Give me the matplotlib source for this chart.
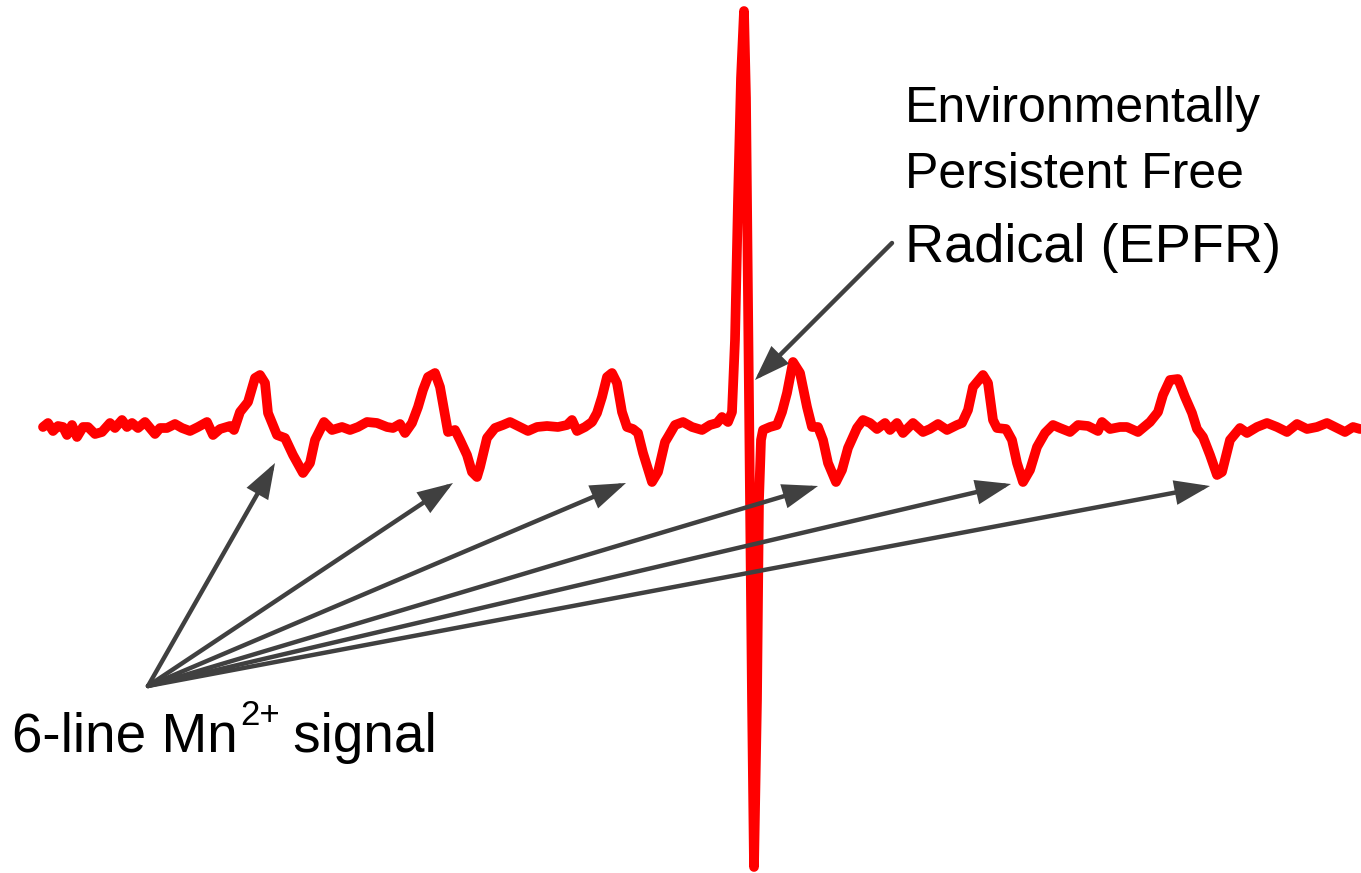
import matplotlib
matplotlib.use("Agg")
import matplotlib.pyplot as plt

plt.rcParams['font.family'] = ['Liberation Sans', 'DejaVu Sans']

# ---- spectrum (field in arb. units, signal in arb. units)
field = [43, 48, 53, 58, 63, 67, 72, 77, 83, 88, 95, 102, 110, 115, 122, 127, 132, 138, 145, 155,
         160, 167, 175, 182, 190, 198, 207, 213, 220, 230, 234, 240, 248, 255, 260, 265, 268, 277, 285, 293,
         303, 310, 315, 324, 332, 342, 350, 358, 367, 377, 387, 393, 400, 405, 412, 418, 423, 428, 435, 440,
         445, 448, 455, 460, 467, 472, 477, 480, 487, 495, 503, 510, 518, 528, 537, 547, 558, 567, 572, 577,
         585, 592, 597, 602, 607, 612, 617, 622, 627, 633, 638, 643, 652, 658, 665, 668, 675, 683, 692, 702,
         710, 717, 722, 728, 732, 735, 738, 741, 744, 746, 748, 750, 752, 754, 757, 759, 761, 763, 770, 777,
         782, 787, 793, 800, 807, 812, 818, 823, 828, 836, 842, 848, 857, 863, 870, 877, 885, 890, 897, 903,
         913, 923, 930, 938, 947, 957, 962, 968, 973, 983, 988, 993, 997, 1006, 1012, 1017, 1023, 1030, 1037, 1045,
         1053, 1060, 1070, 1078, 1088, 1098, 1102, 1110, 1120, 1127, 1138, 1150, 1158, 1163, 1170, 1178, 1185, 1192, 1197, 1203,
         1210, 1217, 1222, 1230, 1240, 1247, 1257, 1267, 1277, 1287, 1297, 1307, 1317, 1327, 1337, 1345, 1353, 1360]
signal = [1, 5, -3, 2, 1, -7, 3, -9, 1, 1, -6, -4, 5, 0, 8, 1, 5, 0, 6, -6,
          0, 0, 4, 0, -3, 1, 6, -7, -1, 2, -2, 16, 26, 50, 53, 45, 15, -7, -10, -27,
          -45, -35, -12, 6, -2, 1, -2, 1, 6, 5, 1, 0, 4, -5, 5, 21, 38, 51, 55, 41,
          13, -4, -2, -12, -27, -44, -49, -39, -10, 0, 3, 6, 2, -3, 1, 2, 1, 3, 8, -3,
          1, 6, 15, 31, 51, 55, 45, 16, 1, -1, -5, -25, -54, -44, -14, -9, 3, 6, 1, -2,
          3, 5, 11, 6, 16, 88, 228, 350, 417, 330, 128, -72, -272, -439, -272, -72, -12, -2, 1, 3,
          16, 35, 66, 55, 21, 1, 1, -12, -35, -54, -42, -20, 0, 8, 5, -1, 5, -2, 5, -5,
          5, -4, -1, 4, -2, 3, 5, 18, 41, 53, 45, 8, 0, -1, -12, -35, -54, -42, -19, -5,
          3, 0, -4, 3, 2, -3, 6, -1, 1, 1, -4, 6, 16, 33, 48, 49, 31, 15, -1, -9,
          -27, -47, -44, -12, 0, -5, 1, 5, 1, -4, 4, -1, 1, 5, 0, -4, 1, -1]

# ---- annotations
mn_label = ["6-line Mn", "2+", " signal"]
mn_tail = (148, -258)
mn_tips = [(275, -35), (453, -55), (626, -55), (818, -58), (1011, -56), (1210, -58)]
epfr_lines = ["Environmentally", "Persistent Free", "Radical (EPFR)"]
epfr_tail = (892, 185)
epfr_tip = (755, 48)

arrow_grey = "#404040"

fig = plt.figure(figsize=(13.61, 8.73), dpi=100)
ax = fig.add_axes([0, 0, 1, 1])
ax.set_xlim(0, 1361)
ax.set_ylim(-445, 428)
ax.axis("off")

ax.plot(field, signal, color="#ff0000", lw=7, solid_joinstyle="round", solid_capstyle="round", zorder=2)

arrow_props = dict(arrowstyle="-|>,head_length=0.4,head_width=0.14", color=arrow_grey, lw=3.2,
                   mutation_scale=48, shrinkA=0, shrinkB=0, capstyle="round", joinstyle="miter")
for tip in mn_tips:
    ax.annotate("", xy=tip, xytext=mn_tail, arrowprops=arrow_props, zorder=3)
ax.annotate("", xy=epfr_tip, xytext=epfr_tail, arrowprops=arrow_props, zorder=3)

# text -- Mn label built from pieces so the superscript sits tight
renderer = fig.canvas.get_renderer()
t1 = ax.text(12, 428 - 752, mn_label[0], fontsize=39.5, ha="left", va="baseline")
x_end = t1.get_window_extent(renderer).x1
t2 = ax.annotate(mn_label[1], xy=(x_end + 2, 873 - 752 + 27), xycoords="figure pixels",
                 fontsize=25, ha="left", va="baseline")
x_end2 = t2.get_window_extent(renderer).x1
ax.annotate(mn_label[2], xy=(x_end2 - 2, 873 - 752), xycoords="figure pixels",
            fontsize=39.5, ha="left", va="baseline")

ax.text(905, 428 - 122, epfr_lines[0], fontsize=36, ha="left", va="baseline")
ax.text(905, 428 - 188, epfr_lines[1], fontsize=36, ha="left", va="baseline")
ax.text(905, 428 - 262, epfr_lines[2], fontsize=39, ha="left", va="baseline")

fig.savefig("out.png", dpi=100)
